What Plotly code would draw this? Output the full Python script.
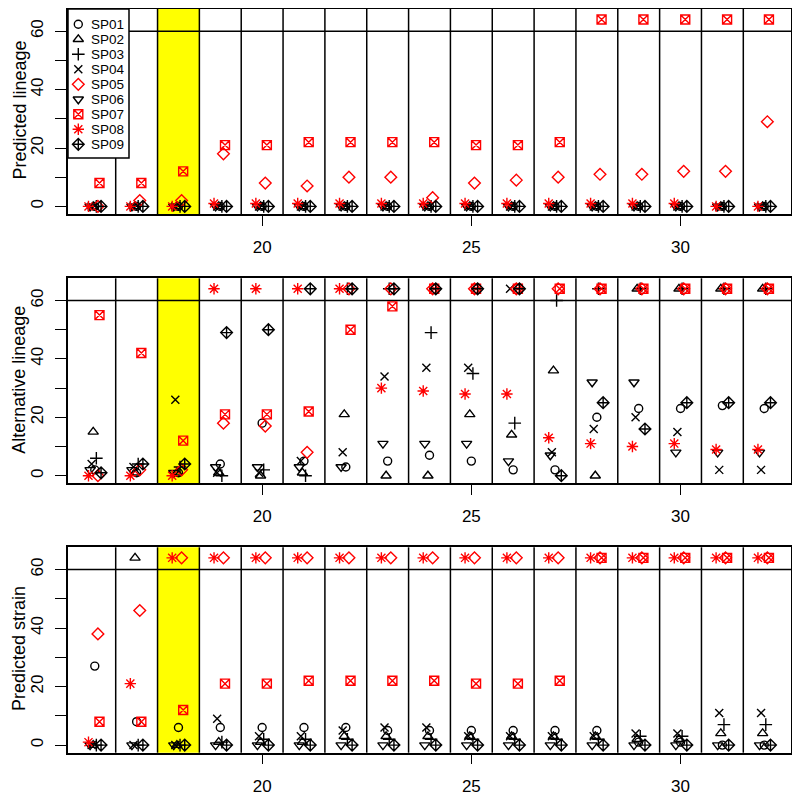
import plotly.graph_objects as go

# ---------------- data ----------------
strains = [16, 17, 18, 19, 20, 21, 22, 23, 24, 25, 26, 27, 28, 29, 30, 31, 32]
species = ["SP01", "SP02", "SP03", "SP04", "SP05", "SP06", "SP07", "SP08", "SP09"]
highlight_strain = 18
tick_x = [20, 25, 30]
tick_y = [0, 10, 20, 30, 40, 50, 60]
tick_y_text = ["0", "", "20", "", "40", "", "60"]
panel_titles = ["Predicted lineage", "Alternative lineage", "Predicted strain"]

# Panel 1: Predicted lineage
lin_SP01 = [0, 0, 0, 0, 0, 0, 0, 0, 0, 0, 0, 0, 0, 0, 0, 0, 0]
lin_SP02 = [0, 0, 0, 0, 0, 0, 0, 0, 0, 0, 0, 0, 0, 0, 0, 0, 0]
lin_SP03 = [0, 0, 0, 0, 0, 0, 0, 0, 0, 0, 0, 0, 0, 0, 0, 0, 0]
lin_SP04 = [0, 0, 0, 0, 0, 0, 0, 0, 0, 0, 0, 0, 0, 0, 0, 0, 0]
lin_SP05 = [0, 2, 2, 18, 8, 7, 10, 10, 3, 8, 9, 10, 11, 11, 12, 12, 29]
lin_SP06 = [0, 0, 0, 0, 0, 0, 0, 0, 0, 0, 0, 0, 0, 0, 0, 0, 0]
lin_SP07 = [8, 8, 12, 21, 21, 22, 22, 22, 22, 21, 21, 22, 64, 64, 64, 64, 64]
lin_SP08 = [0, 0, 0, 1, 1, 1, 1, 1, 1, 1, 1, 1, 1, 1, 1, 0, 0]
lin_SP09 = [0, 0, 0, 0, 0, 0, 0, 0, 0, 0, 0, 0, 0, 0, 0, 0, 0]

# Panel 2: Alternative lineage
alt_SP01 = [2, 1, 1, 4, 18, 5, 3, 5, 7, 5, 2, 2, 20, 23, 23, 24, 23]
alt_SP02 = [15, 1, 1, 1, 0, 1, 21, 0, 0, 21, 14, 36, 0, 64, 64, 64, 64]
alt_SP03 = [6, 4, 3, 0, 2, 0, 64, 64, 49, 35, 18, 60, 64, 64, 64, 64, 64]
alt_SP04 = [4, 3, 26, 1, 1, 5, 8, 34, 37, 37, 64, 8, 16, 20, 15, 2, 2]
alt_SP05 = [0, 2, 2, 18, 17, 8, 64, 64, 64, 64, 64, 64, 64, 64, 64, 64, 64]
alt_SP06 = [2, 2, 1, 3, 3, 3, 3, 11, 11, 11, 5, 7, 32, 32, 8, 8, 8]
alt_SP07 = [55, 42, 12, 21, 21, 22, 50, 58, 64, 64, 64, 64, 64, 64, 64, 64, 64]
alt_SP08 = [0, 0, 0, 64, 64, 64, 64, 30, 29, 28, 28, 13, 11, 10, 11, 9, 9]
alt_SP09 = [1, 4, 4, 49, 50, 64, 64, 64, 64, 64, 64, 0, 25, 16, 25, 25, 25]

# Panel 3: Predicted strain
str_SP01 = [27, 8, 6, 6, 6, 6, 6, 5, 5, 5, 5, 5, 5, 1, 1, 0, 0]
str_SP02 = [0, 64, 0, 1, 1, 1, 3, 3, 3, 3, 3, 3, 3, 2, 2, 4, 4]
str_SP03 = [0, 0, 0, 1, 2, 2, 2, 2, 2, 2, 2, 2, 2, 3, 3, 7, 7]
str_SP04 = [0, 0, 0, 9, 3, 3, 5, 6, 6, 3, 3, 3, 3, 4, 4, 11, 11]
str_SP05 = [38, 46, 64, 64, 64, 64, 64, 64, 64, 64, 64, 64, 64, 64, 64, 64, 64]
str_SP06 = [0, 0, 0, 0, 0, 0, 0, 0, 0, 0, 0, 0, 0, 0, 0, 0, 0]
str_SP07 = [8, 8, 12, 21, 21, 22, 22, 22, 22, 21, 21, 22, 64, 64, 64, 64, 64]
str_SP08 = [1, 21, 64, 64, 64, 64, 64, 64, 64, 64, 64, 64, 64, 64, 64, 64, 64]
str_SP09 = [0, 0, 0, 0, 0, 0, 0, 0, 0, 0, 0, 0, 0, 0, 0, 0, 0]

panels = [
    [lin_SP01, lin_SP02, lin_SP03, lin_SP04, lin_SP05, lin_SP06, lin_SP07, lin_SP08, lin_SP09],
    [alt_SP01, alt_SP02, alt_SP03, alt_SP04, alt_SP05, alt_SP06, alt_SP07, alt_SP08, alt_SP09],
    [str_SP01, str_SP02, str_SP03, str_SP04, str_SP05, str_SP06, str_SP07, str_SP08, str_SP09],
]

# ---------------- style ----------------
RED = "#FF0000"
BLK = "#000000"
sym = {
    "SP01": ("circle-open", BLK, 8),
    "SP02": ("triangle-up-open", BLK, 9),
    "SP03": ("cross-thin-open", BLK, 9),
    "SP04": ("x-thin-open", BLK, 8),
    "SP05": ("diamond-open", RED, 9),
    "SP06": ("triangle-down-open", BLK, 9),
    "SP07": ("square-x-open", RED, 9),
    "SP08": ("asterisk-open", RED, 9.5),
    "SP09": ("diamond-cross-open", BLK, 9),
}
# horizontal dodge within a strain column (alternating left/right)
dodge = {"SP01": 0.0, "SP02": -0.0375, "SP03": 0.0375, "SP04": -0.075, "SP05": 0.075,
         "SP06": -0.1125, "SP07": 0.1125, "SP08": -0.15, "SP09": 0.15}

# page body has an 8px margin: figure is 792x792 placed at (8, 8)
OFF = 8
W, H = 792, 792
PL, PR = 68 - OFF, 791 - OFF
pix = [(9 - OFF, 214 - OFF), (278.3 - OFF, 483.3 - OFF), (547.3 - OFF, 752.7 - OFF)]
XR = [15.36, 32.64]
YR = [-2.6, 67.6]
FONT = "Liberation Sans, Arial, Helvetica, sans-serif"

fig = go.Figure()

for p, data in enumerate(panels):
    xa = "x" if p == 0 else f"x{p+1}"
    ya = "y" if p == 0 else f"y{p+1}"
    for s, vals in zip(species, data):
        symbol, col, size = sym[s]
        fig.add_trace(go.Scatter(
            x=[v + dodge[s] for v in strains], y=vals, mode="markers",
            xaxis=xa, yaxis=ya, name=s, showlegend=False, hoverinfo="skip",
            marker=dict(symbol=symbol, size=size, color=col,
                        line=dict(color=col, width=1.4)),
        ))

shapes = []
annotations = []
layout = dict(
    width=W, height=H, margin=dict(l=0, r=0, t=0, b=0, autoexpand=False),
    paper_bgcolor="white", plot_bgcolor="white",
    font=dict(family=FONT, color="black", size=17),
    showlegend=False,
)
for p in range(3):
    t, b = pix[p]
    sfx = "" if p == 0 else str(p + 1)
    xa, ya = "xaxis" + sfx, "yaxis" + sfx
    layout[xa] = dict(
        domain=[PL / W, PR / W], range=XR, anchor="y" + sfx, automargin=False,
        tickvals=tick_x, ticks="outside", ticklen=10, tickwidth=1.3, tickcolor="black",
        showline=True, mirror=True, linecolor="black", linewidth=1.5,
        showgrid=False, zeroline=False, tickfont=dict(size=17),
        ticklabelstandoff=7,
    )
    layout[ya] = dict(
        domain=[1 - b / H, 1 - t / H], range=YR, anchor="x" + sfx, automargin=False,
        tickvals=tick_y, ticktext=tick_y_text, tickangle=-90,
        ticks="outside", ticklen=11, tickwidth=1.3, tickcolor="black",
        showline=True, mirror=True, linecolor="black", linewidth=1.5,
        showgrid=False, zeroline=False, tickfont=dict(size=17),
        ticklabelstandoff=5,
    )
    # axis title (rotated), kept fully inside the figure
    annotations.append(dict(text=panel_titles[p], xref="paper", yref="paper",
                            x=(19 - OFF) / W, y=1 - ((t + b) / 2 - 1) / H,
                            xanchor="center", yanchor="middle", textangle=-90,
                            showarrow=False, font=dict(size=18), borderpad=0))
    xr, yr = "x" + sfx, "y" + sfx
    # highlighted strain column
    shapes.append(dict(type="rect", xref=xr, yref=yr + " domain",
                       x0=highlight_strain - 0.5, x1=highlight_strain + 0.5, y0=0, y1=1,
                       fillcolor="#FFFF00", line=dict(width=0), layer="below"))
    # column separators
    for k in strains[:-1]:
        shapes.append(dict(type="line", xref=xr, yref=yr + " domain",
                           x0=k + 0.5, x1=k + 0.5, y0=0, y1=1,
                           line=dict(color="black", width=1.5), layer="below"))
    # line separating the overflow band
    shapes.append(dict(type="line", xref=xr + " domain", yref=yr,
                       x0=0, x1=1, y0=60, y1=60,
                       line=dict(color="black", width=1.5), layer="below"))

# ---------- legend (drawn inside panel 1, pixel-based overlay axes) ----------
layout["xaxis4"] = dict(overlaying="x", range=[0, PR - PL], visible=False, anchor="y4")
layout["yaxis4"] = dict(overlaying="y", range=[pix[0][1] - pix[0][0], 0], visible=False, anchor="x4")
shapes.append(dict(type="rect", xref="x4", yref="y4", x0=0, x1=61, y0=0, y1=149,
                   fillcolor="white", line=dict(color="black", width=1.5), layer="below"))
for i, s in enumerate(species):
    symbol, col, size = sym[s]
    yy = 15.3 + 15 * i
    fig.add_trace(go.Scatter(
        x=[10.3], y=[yy], mode="markers", xaxis="x4", yaxis="y4",
        showlegend=False, hoverinfo="skip",
        marker=dict(symbol=symbol, size=size, color=col, line=dict(color=col, width=1.4)),
    ))
    annotations.append(dict(x=21, y=yy, xref="x4", yref="y4", text=s, showarrow=False,
                            xanchor="left", yanchor="middle", font=dict(size=13.5)))

layout["shapes"] = shapes
layout["annotations"] = annotations
fig.update_layout(**layout)
fig.write_html("out.html")
